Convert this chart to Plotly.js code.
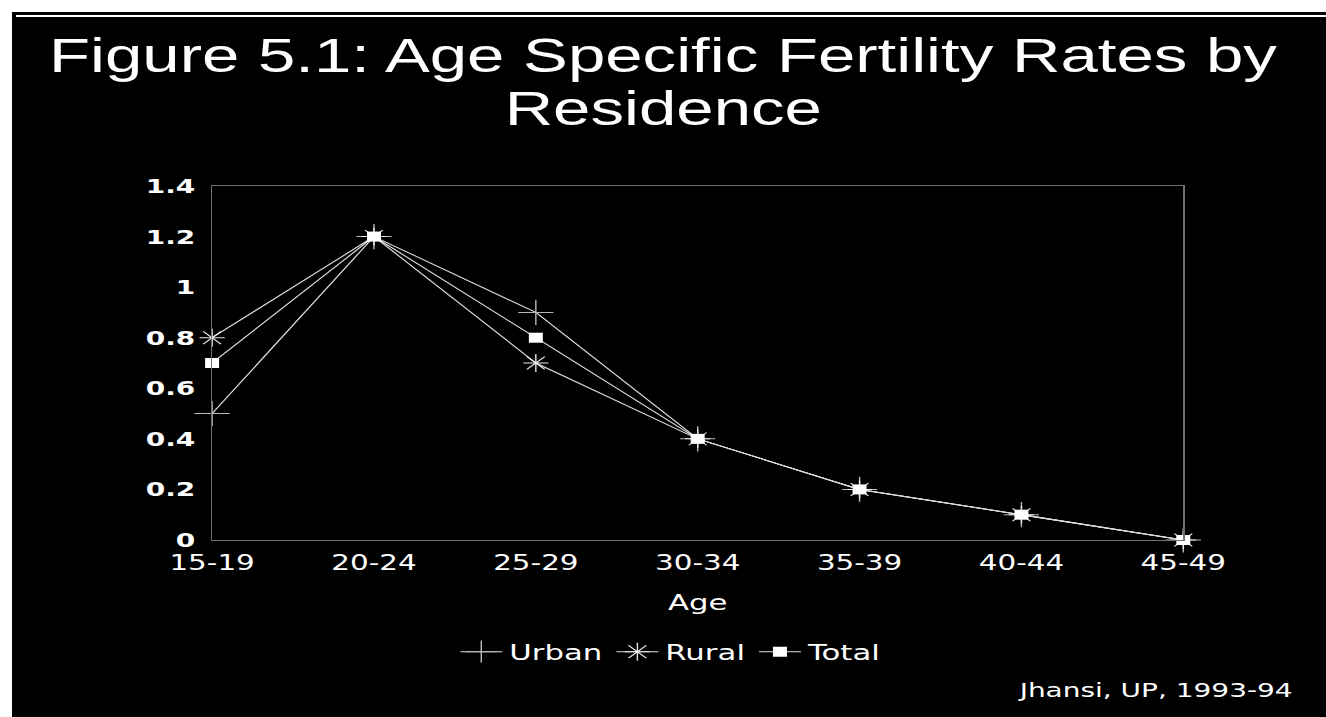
<!DOCTYPE html>
<html>
<head>
<meta charset="utf-8">
<script src="https://cdn.plot.ly/plotly-3.0.1.min.js"></script>
<style>
  html, body { margin: 0; padding: 0; background: #ffffff; width: 1326px; height: 717px; overflow: hidden; }
  #slide { position: absolute; left: 12px; top: 12px; width: 1314px; height: 705px; background: #000000; overflow: hidden; }
  #rule { position: absolute; left: 4px; top: 3px; width: 1310px; height: 1.5px; background: #ffffff; }
  /* chart is laid out narrow and stretched sideways to fill the wide slide */
  #chart { position: absolute; left: 0; top: 0; width: 939px; height: 705px; transform-origin: 0 0; transform: scaleX(1.3994); }
</style>
</head>
<body>
<div id="slide">
  <div id="chart"></div>
  <div id="rule"></div>
</div>
<script>
// Age groups (x categories)
const ageGroups = ["15-19", "20-24", "25-29", "30-34", "35-39", "40-44", "45-49"];

// Age specific fertility rates
const urban = [0.5, 1.2, 0.9, 0.4, 0.2, 0.1, 0.0];
const rural = [0.8, 1.2, 0.7, 0.4, 0.2, 0.1, 0.0];
const total = [0.7, 1.2, 0.8, 0.4, 0.2, 0.1, 0.0];

const seriesNames = ["Urban", "Rural", "Total"];
const titleLines = ["Figure 5.1: Age Specific Fertility Rates by", "Residence"];
const sourceNote = "Jhansi, UP, 1993-94";

const lineStyle = { color: "#dcdcdc", width: 1 };

const traces = [
  {
    x: ageGroups, y: urban, name: seriesNames[0], type: "scatter", mode: "lines+markers",
    line: lineStyle, cliponaxis: false,
    marker: { symbol: "cross-thin-open", size: 18, color: "#b8b8b8", line: { color: "#b8b8b8", width: 1 } }
  },
  {
    x: ageGroups, y: rural, name: seriesNames[1], type: "scatter", mode: "lines+markers",
    line: lineStyle, cliponaxis: false,
    marker: { symbol: "asterisk-open", size: 15, color: "#e6e6e6", line: { color: "#e6e6e6", width: 1 } }
  },
  {
    x: ageGroups, y: total, name: seriesNames[2], type: "scatter", mode: "lines+markers",
    line: lineStyle, cliponaxis: false,
    marker: { symbol: "square", size: 10, color: "#ffffff", line: { width: 0 } }
  }
];

const titleFont = "'Liberation Sans', Arial, sans-serif";
const font = "'DejaVu Sans', sans-serif";

const layout = {
  width: 939,
  height: 705,
  paper_bgcolor: "#000000",
  plot_bgcolor: "#000000",
  margin: { l: 142.9, r: 102.2, t: 174, b: 177, pad: 0 },
  showlegend: true,
  title: {
    text: titleLines[0],
    font: { family: titleFont, size: 48, color: "#ffffff" },
    xref: "container", x: 0.4954, xanchor: "center",
    yref: "container", y: 0.939, yanchor: "middle"
  },
  xaxis: {
    type: "category",
    categoryorder: "array",
    categoryarray: ageGroups,
    range: [0, 6],
    showgrid: false, zeroline: false,
    showline: true, mirror: true, linecolor: "#707070", linewidth: 1,
    ticks: "", ticklabelstandoff: 4,
    tickfont: { family: font, size: 21, color: "#ffffff" },
    title: { text: "Age", font: { family: font, size: 22, color: "#ffffff" }, standoff: 20 }
  },
  yaxis: {
    range: [0, 1.4],
    dtick: 0.2,
    tick0: 0,
    showgrid: false, zeroline: false,
    showline: true, mirror: true, linecolor: "#707070", linewidth: 1,
    ticks: "", ticklabelstandoff: 7,
    tickfont: { family: font, size: 20, color: "#ffffff", weight: "bold" }
  },
  legend: {
    orientation: "h",
    x: 0.4724, xanchor: "center",
    y: -0.316, yanchor: "middle",
    font: { family: font, size: 22, color: "#ffffff" },
    bgcolor: "rgba(0,0,0,0)",
    itemwidth: 30
  },
  annotations: [
    {
      text: titleLines[1],
      xref: "paper", yref: "paper",
      x: 0.4645, xanchor: "center",
      y: 1.2203, yanchor: "middle",
      showarrow: false,
      font: { family: titleFont, size: 48, color: "#ffffff" }
    },
    {
      text: sourceNote,
      xref: "paper", yref: "paper",
      x: 1.1147, xanchor: "right",
      y: -0.4237, yanchor: "middle",
      showarrow: false,
      font: { family: font, size: 20, color: "#ffffff" }
    }
  ]
};

Plotly.newPlot("chart", traces, layout, { staticPlot: true, displayModeBar: false });
</script>
</body>
</html>
